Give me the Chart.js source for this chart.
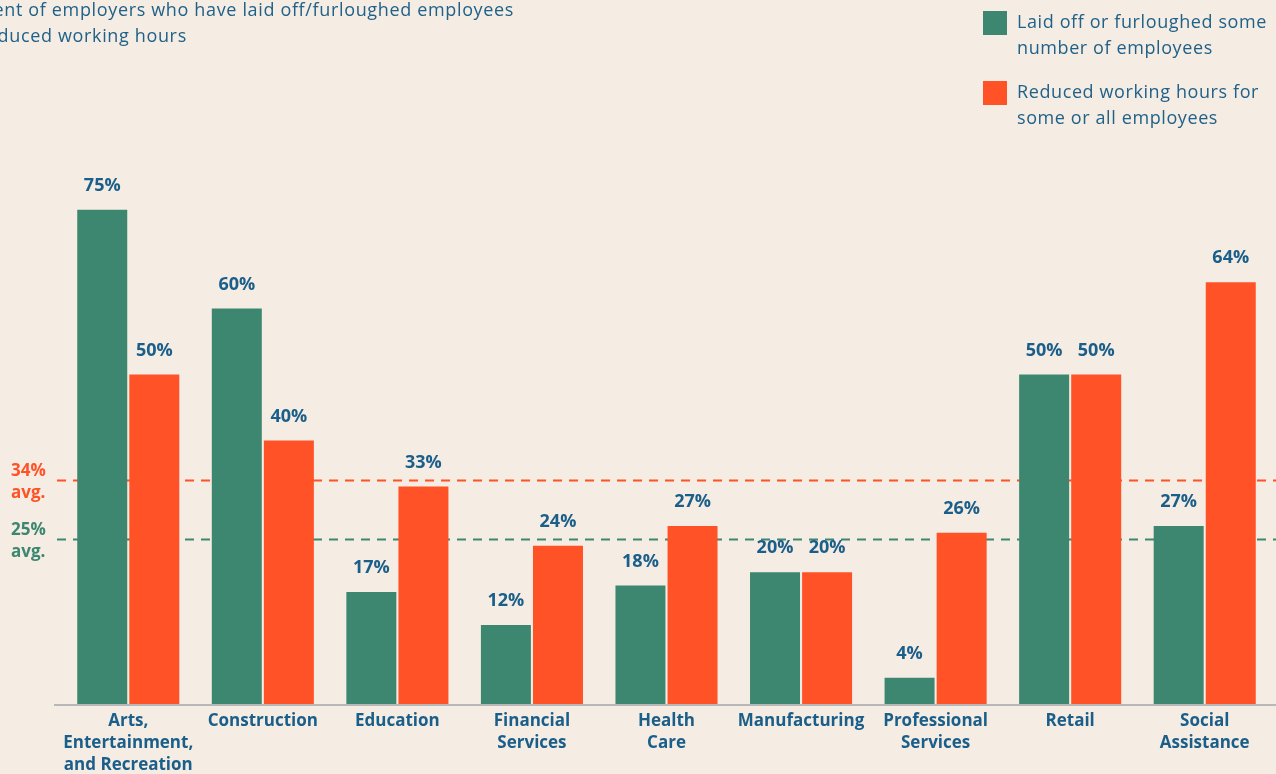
<!DOCTYPE html>
<html>
<head>
<meta charset="utf-8">
<script src="https://cdn.jsdelivr.net/npm/chart.js@4/dist/chart.umd.min.js"></script>
<style>
  html, body { margin: 0; padding: 0; background: #f5ece3; overflow: hidden; }
  #wrap { position: relative; width: 1276px; height: 774px; }
  #title { position: absolute; left: -46px; top: -4px; font: 18px "Open Sans", sans-serif; letter-spacing: 0.65px; line-height: 26px; color: #1f6188; white-space: nowrap; }
  #legend { position: absolute; left: 983px; top: 8px; font: 18px "Open Sans", sans-serif; letter-spacing: 0.6px; line-height: 26px; color: #1f6188; white-space: nowrap; }
  .item { display: flex; align-items: flex-start; margin-bottom: 18px; }
  .sw { width: 24px; height: 24px; margin: 3px 10px 0 0; flex: none; }
</style>
</head>
<body>
<div id="wrap">
  <canvas id="chart" width="1276" height="774"></canvas>
  <div id="title">Percent of employers who have laid off/furloughed employees<br>or reduced working hours</div>
  <div id="legend">
    <div class="item"><div class="sw" style="background:#3d8770"></div><div>Laid off or furloughed some<br>number of employees</div></div>
    <div class="item"><div class="sw" style="background:#ff5227"></div><div>Reduced working hours for<br>some or all employees</div></div>
  </div>
</div>
<script>
const categories = [
  ['Arts,', 'Entertainment,', 'and Recreation'],
  'Construction',
  'Education',
  ['Financial', 'Services'],
  ['Health', 'Care'],
  'Manufacturing',
  ['Professional', 'Services'],
  'Retail',
  ['Social', 'Assistance']
];
const laidOff = [75, 60, 17, 12, 18, 20, 4, 50, 27];
const reducedHours = [50, 40, 33, 24, 27, 20, 26, 50, 64];
const averages = [
  { value: 34, label: ['34%', 'avg.'], color: '#ff5227' },
  { value: 25, label: ['25%', 'avg.'], color: '#3d8770' }
];

const GREEN = '#3d8770';
const ORANGE = '#ff5227';
const BLUE = '#1a5e8a';
const FONT = '"Open Sans", sans-serif';

// value labels, average lines and the bottom axis line
const extras = {
  id: 'extras',
  beforeDatasetsDraw(chart) {
    const ctx = chart.ctx;
    const y = chart.scales.y;
    ctx.save();
    averages.forEach(a => {
      const py = Math.round(y.getPixelForValue(a.value)) + 0.5;
      ctx.strokeStyle = a.color;
      ctx.lineWidth = 2;
      ctx.setLineDash([9, 7]);
      ctx.beginPath();
      ctx.moveTo(57, py);
      ctx.lineTo(chart.width, py);
      ctx.stroke();
      ctx.setLineDash([]);
      ctx.fillStyle = a.color;
      ctx.font = 'bold 17px ' + FONT;
      ctx.textAlign = 'left';
      ctx.textBaseline = 'middle';
      ctx.fillText(a.label[0], 11, py - 9);
      ctx.fillText(a.label[1], 11, py + 13);
    });
    ctx.restore();
  },
  afterDatasetsDraw(chart) {
    const ctx = chart.ctx;
    const base = chart.scales.y.getPixelForValue(0);
    ctx.save();
    ctx.strokeStyle = '#b8b8b8';
    ctx.lineWidth = 2;
    ctx.beginPath();
    ctx.moveTo(54, base + 1);
    ctx.lineTo(chart.width, base + 1);
    ctx.stroke();
    ctx.fillStyle = BLUE;
    ctx.font = 'bold 18px ' + FONT;
    ctx.textAlign = 'center';
    ctx.textBaseline = 'middle';
    chart.data.datasets.forEach((ds, i) => {
      chart.getDatasetMeta(i).data.forEach((bar, j) => {
        ctx.fillText(ds.data[j] + '%', bar.x, bar.y - 24);
      });
    });
    ctx.restore();
  }
};

new Chart(document.getElementById('chart'), {
  type: 'bar',
  data: {
    labels: categories,
    datasets: [
      { label: 'Laid off or furloughed some number of employees', data: laidOff, backgroundColor: GREEN },
      { label: 'Reduced working hours for some or all employees', data: reducedHours, backgroundColor: ORANGE }
    ]
  },
  options: {
    responsive: false,
    animation: false,
    layout: { padding: { left: 61, right: 4, top: 45, bottom: 0 } },
    datasets: { bar: { categoryPercentage: 0.774, barPercentage: 0.96 } },
    plugins: { legend: { display: false }, tooltip: { enabled: false } },
    scales: {
      x: {
        grid: { display: false, drawTicks: false },
        border: { display: false },
        ticks: { color: BLUE, font: { family: FONT, size: 17, weight: 'bold', lineHeight: 1.3 }, padding: 6, maxRotation: 0, autoSkip: false },
        afterFit(axis) { axis.height = 70; }
      },
      y: { display: false, min: 0, max: 100 }
    }
  },
  plugins: [extras]
});
</script>
</body>
</html>
